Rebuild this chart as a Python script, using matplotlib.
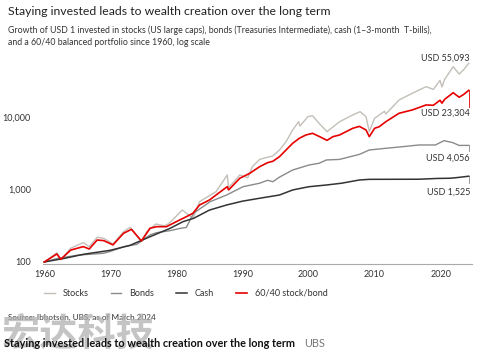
import matplotlib
matplotlib.use("Agg")
import matplotlib.pyplot as plt
from matplotlib.lines import Line2D
from matplotlib.ticker import FixedLocator, FixedFormatter, NullLocator

# ---------------- data ----------------
stocks_years = [1960.0, 1961.9, 1962.5, 1964.0, 1965.9, 1966.8, 1968.0, 1969.0, 1970.4,
                1972.0, 1973.0, 1974.7, 1975.5, 1976.9, 1978.2, 1978.9, 1980.9, 1982.5,
                1983.5, 1986.0, 1987.7, 1987.9, 1989.6, 1990.8, 1991.5, 1992.6, 1993.8,
                1994.6, 1995.6, 1996.6, 1997.6, 1998.5, 1998.7, 1999.9, 2000.6, 2001.7,
                2002.8, 2004.7, 2006.7, 2007.8, 2008.7, 2009.2, 2010.0, 2011.5, 2011.7,
                2013.7, 2015.7, 2017.8, 2018.9, 2019.9, 2020.2, 2020.6, 2021.9, 2022.8,
                2023.5, 2024.25]
stocks_vals = [100, 134, 107, 155, 185, 163, 219, 212, 177,
               262, 301, 191, 262, 334, 315, 341, 521, 400,
               679, 933, 1585, 1060, 1585, 1450, 2064, 2600, 2780,
               2900, 3505, 4570, 6620, 8610, 7500, 10090, 10420, 8000,
               6270, 8610, 10670, 11830, 10090, 6270, 9590, 12000, 11000,
               17140, 21230, 26190, 24000, 32000, 26000, 33000, 49400, 39150,
               45000, 55093]

mix_years = [1960.0, 1961.9, 1962.5, 1964.0, 1965.9, 1966.8, 1968.0, 1969.0, 1970.4,
             1972.0, 1973.2, 1974.7, 1975.5, 1976.0, 1977.0, 1978.5, 1980.5, 1981.5,
             1982.5, 1983.5, 1985.0, 1986.0, 1987.7, 1987.9, 1989.6, 1991.1, 1992.6,
             1993.8, 1994.6, 1995.6, 1996.6, 1997.6, 1998.6, 1999.6, 2000.6, 2001.6,
             2002.8, 2003.7, 2004.7, 2006.7, 2007.7, 2008.7, 2009.2, 2010.0, 2010.7,
             2011.7, 2013.7, 2015.7, 2017.8, 2018.9, 2019.9, 2020.2, 2020.6, 2021.9,
             2022.8, 2023.5, 2024.25]
mix_vals = [100, 129, 109, 146, 163, 151, 201, 197, 172,
            249, 282, 195, 249, 292, 307, 307, 380, 421,
            470, 611, 716, 839, 1094, 985, 1429, 1671, 2064,
            2344, 2450, 2834, 3505, 4335, 5083, 5646, 5952, 5400,
            4760, 5358, 5646, 6985, 7420, 6620, 5358, 6985, 7340,
            8610, 11250, 12500, 14650, 14500, 17000, 15500, 17500, 21600,
            18720, 20500, 23304]

bonds_years = [1960.0, 1962.0, 1965.0, 1967.0, 1969.0, 1970.0, 1972.0, 1974.0, 1976.0,
               1977.0, 1979.0, 1980.5, 1981.5, 1982.6, 1985.1, 1987.6, 1990.1, 1992.6,
               1993.8, 1994.6, 1995.6, 1997.6, 2000.1, 2001.6, 2002.7, 2004.7,
               2007.7, 2009.2, 2011.7, 2014.2, 2016.7, 2019.2, 2020.5, 2021.8, 2022.8,
               2024.25]
bonds_vals = [100, 112, 124, 128, 132, 140, 162, 175, 236,
              254, 270, 290, 300, 470, 679, 839, 1094, 1220,
              1340, 1280, 1480, 1857, 2177, 2300, 2553, 2600,
              3050, 3505, 3700, 3890, 4110, 4110, 4710, 4440, 4050,
              4056]

cash_years = [1960.0, 1963.0, 1966.0, 1970.0, 1973.0, 1976.0, 1979.0, 1981.0, 1982.6,
              1985.0, 1987.6, 1990.0, 1992.6, 1995.6, 1997.6, 2000.0, 2002.7, 2005.0,
              2007.7, 2009.2, 2016.7, 2019.5, 2021.5, 2022.8, 2024.25]
cash_vals = [100, 112, 128, 145, 170, 223, 290, 360, 400,
             520, 611, 690, 757, 839, 985, 1090, 1153, 1220,
             1352, 1380, 1385, 1420, 1430, 1470, 1525]

series_names = ["Stocks", "Bonds", "Cash", "60/40 stock/bond"]
end_labels = ["USD 55,093", "USD 23,304", "USD 4,056", "USD 1,525"]
y_ticks = [100, 1000, 10000]
y_ticklabels = ["100", "1,000", "10,000"]
x_ticks = [1960, 1970, 1980, 1990, 2000, 2010, 2020]

title = "Staying invested leads to wealth creation over the long term"
subtitle1 = "Growth of USD 1 invested in stocks (US large caps), bonds (Treasuries Intermediate), cash (1\u20133-month  T-bills),"
subtitle2 = "and a 60/40 balanced portfolio since 1960, log scale"
source = "Source: Ibbotson, UBS, as of March 2024"
watermark = "宏达科技"
footer = "Staying invested leads to wealth creation over the long term"
footer_brand = "UBS"

# ---------------- styling ----------------
plt.rcParams['font.family'] = ['Lato', 'DejaVu Sans']
W, H = 487, 354
DPI = 100
fig = plt.figure(figsize=(W / DPI, H / DPI), dpi=DPI)

c_stocks = "#c3bfb8"
c_bonds = "#8a8a8a"
c_cash = "#333333"
c_mix = "#e60000"
txt = "#333333"

def px(x, y):
    return x / W, 1 - y / H

ax_l, ax_r, ax_t, ax_b = 43.3, 471.7, 55, 264
ax = fig.add_axes([ax_l / W, 1 - ax_b / H, (ax_r - ax_l) / W, (ax_b - ax_t) / H])
ax.set_yscale("log")
ax.set_xlim(1959.85, 2024.7)
ax.set_ylim(93.8, 71600)

ax.plot(stocks_years, stocks_vals, color=c_stocks, lw=1.0, zorder=2)
ax.plot(bonds_years, bonds_vals, color=c_bonds, lw=1.0, zorder=2)
ax.plot(cash_years, cash_vals, color=c_cash, lw=1.1, zorder=3)
ax.plot(mix_years, mix_vals, color=c_mix, lw=1.2, zorder=4)

# leader ticks at the series ends
xe = mix_years[-1]
ax.plot([xe, xe], [mix_vals[-1], mix_vals[-1] * 0.58], color=c_mix, lw=0.6)
ax.plot([xe, xe], [bonds_vals[-1], bonds_vals[-1] * 0.85], color=c_bonds, lw=0.6)
ax.plot([xe, xe], [cash_vals[-1], cash_vals[-1] * 0.80], color=c_bonds, lw=0.6)

for s in ["top", "right", "left"]:
    ax.spines[s].set_visible(False)
ax.spines["bottom"].set_color("#aaaaaa")
ax.spines["bottom"].set_linewidth(0.8)
ax.yaxis.set_major_locator(FixedLocator(y_ticks))
ax.yaxis.set_major_formatter(FixedFormatter(y_ticklabels))
ax.yaxis.set_minor_locator(NullLocator())
ax.set_xticks(x_ticks)
ax.set_xticklabels([str(t) for t in x_ticks])
ax.tick_params(axis="both", length=0, labelsize=6.5, colors=txt)
ax.tick_params(axis="y", pad=9)
ax.tick_params(axis="x", pad=4)

# end labels
label_y = [58.3, 112.7, 158.3, 191.7]
for lab, yy in zip(end_labels, label_y):
    fig.text(*px(470, yy), lab, ha="right", va="center", fontsize=6.5, color=txt)

# legend
handles = [Line2D([], [], color=c_stocks, lw=1.0),
           Line2D([], [], color=c_bonds, lw=1.0),
           Line2D([], [], color=c_cash, lw=1.1),
           Line2D([], [], color=c_mix, lw=1.2)]
leg = fig.legend(handles, series_names, loc="center left", bbox_to_anchor=px(44, 293.3),
                 ncol=4, frameon=False, fontsize=6.5, handlelength=1.2,
                 handletextpad=0.9, columnspacing=2.4, labelcolor=txt, borderaxespad=0,
                 borderpad=0)

# texts
fig.text(*px(8, 11.7), title, ha="left", va="center", fontsize=8.8, color="#222222")
fig.text(*px(8.3, 30.7), subtitle1, ha="left", va="center", fontsize=6.3, color=txt)
fig.text(*px(8.3, 42.7), subtitle2, ha="left", va="center", fontsize=6.3, color=txt)
fig.text(*px(8.3, 317.5), source, ha="left", va="center", fontsize=5.9, color=txt, zorder=1)
fig.text(*px(2, 334), watermark, ha="left", va="center", fontsize=27.5,
         family=["Noto Sans CJK SC"], fontweight="bold", color="#b0b0b0", alpha=0.75, zorder=2)
fig.text(*px(4, 343.5), footer, ha="left", va="center", fontsize=7.85,
         fontweight="bold", color="#111111", zorder=3)
fig.text(*px(304, 343.5), footer_brand, ha="left", va="center", fontsize=7.85,
         color="#777777", zorder=3)

fig.savefig("out.png", dpi=DPI, facecolor="white")
